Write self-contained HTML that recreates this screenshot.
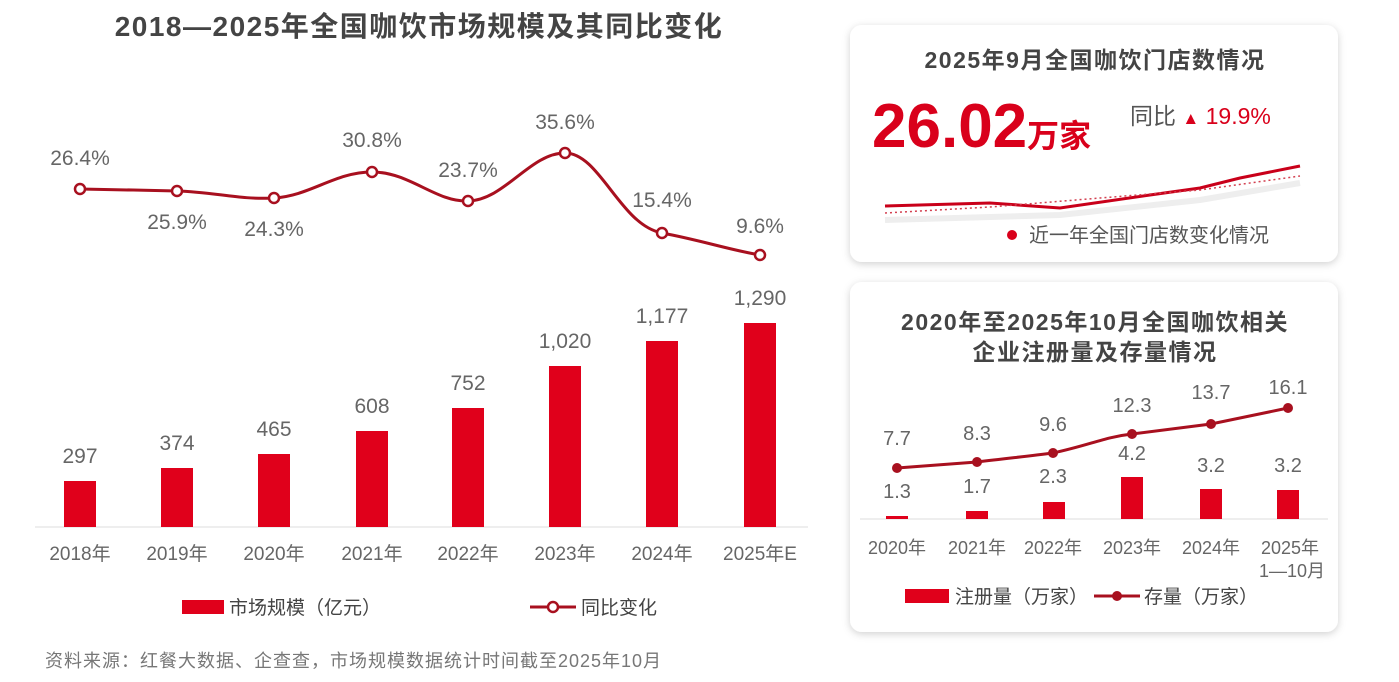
<!DOCTYPE html>
<html><head><meta charset="utf-8"><style>
html,body{margin:0;padding:0;background:#fff;width:1399px;height:682px;overflow:hidden}
svg{display:block;font-family:"Liberation Sans","Noto Sans CJK SC",sans-serif}
</style></head><body>
<svg width="1399" height="682" viewBox="0 0 1399 682">
<defs>
<filter id="sh" x="-5%" y="-5%" width="110%" height="115%"><feDropShadow dx="0" dy="2" stdDeviation="4" flood-color="#000" flood-opacity="0.18"/></filter>
</defs>
<rect width="1399" height="682" fill="#fff"/>
<text x="419" y="36" text-anchor="middle" font-size="28" font-weight="bold" fill="#444" letter-spacing="1.5">2018—2025年全国咖饮市场规模及其同比变化</text>
<line x1="35" y1="527" x2="808" y2="527" stroke="#ddd" stroke-width="1"/>
<g fill="#e0001b">
<rect x="64" y="481" width="32" height="46"/>
<rect x="161" y="468" width="32" height="59"/>
<rect x="258" y="454" width="32" height="73"/>
<rect x="356" y="431" width="32" height="96"/>
<rect x="452" y="408" width="32" height="119"/>
<rect x="549" y="366" width="32" height="161"/>
<rect x="646" y="341" width="32" height="186"/>
<rect x="744" y="323" width="32" height="204"/>
</g>
<g font-size="21" fill="#666" text-anchor="middle">
<text x="80" y="463">297</text><text x="177" y="450">374</text><text x="274" y="436">465</text><text x="372" y="413">608</text>
<text x="468" y="390">752</text><text x="565" y="348">1,020</text><text x="662" y="323">1,177</text><text x="760" y="305">1,290</text>
</g>
<path d="M80,189 C120,190 140,190 177,191 C215,192 240,200 274,198 C310,196 335,172 372,172 C410,172 435,202 468,201 C505,200 530,153 565,153 C600,153 620,225 662,233 C700,240 730,250 760,255" fill="none" stroke="#a8101f" stroke-width="3"/>
<g fill="#fff" stroke="#a8101f" stroke-width="2.5">
<circle cx="80" cy="189" r="5"/><circle cx="177" cy="191" r="5"/><circle cx="274" cy="198" r="5"/><circle cx="372" cy="172" r="5"/>
<circle cx="468" cy="201" r="5"/><circle cx="565" cy="153" r="5"/><circle cx="662" cy="233" r="5"/><circle cx="760" cy="255" r="5"/>
</g>
<g font-size="21" fill="#666" text-anchor="middle">
<text x="80" y="165">26.4%</text><text x="177" y="229">25.9%</text><text x="274" y="236">24.3%</text><text x="372" y="147">30.8%</text>
<text x="468" y="177">23.7%</text><text x="565" y="129">35.6%</text><text x="662" y="207">15.4%</text><text x="760" y="233">9.6%</text>
</g>
<g font-size="19" fill="#666" text-anchor="middle">
<text x="80" y="560">2018年</text><text x="177" y="560">2019年</text><text x="274" y="560">2020年</text><text x="372" y="560">2021年</text>
<text x="468" y="560">2022年</text><text x="565" y="560">2023年</text><text x="662" y="560">2024年</text><text x="760" y="560">2025年E</text>
</g>
<rect x="182" y="600" width="42" height="14" fill="#e0001b"/>
<text x="229" y="614" font-size="19" fill="#444">市场规模（亿元）</text>
<line x1="530" y1="607" x2="576" y2="607" stroke="#a8101f" stroke-width="3"/>
<circle cx="553" cy="607" r="5" fill="#fff" stroke="#a8101f" stroke-width="2.5"/>
<text x="581" y="614" font-size="19" fill="#444">同比变化</text>
<text x="45" y="667" font-size="18" fill="#777" letter-spacing="1">资料来源：红餐大数据、企查查，市场规模数据统计时间截至2025年10月</text>

<rect x="850" y="25" width="488" height="237" rx="12" fill="#fff" filter="url(#sh)"/>
<text x="1095" y="68" text-anchor="middle" font-size="23" font-weight="bold" fill="#444" letter-spacing="1.5">2025年9月全国咖饮门店数情况</text>
<text x="872" y="147" font-size="62" font-weight="bold" fill="#d9001b">26.02<tspan font-size="32">万家</tspan></text>
<text x="1130" y="124" font-size="23" fill="#555">同比 <tspan fill="#d9001b" font-size="17">▲</tspan><tspan fill="#d9001b"> 19.9%</tspan></text>
<path d="M885,206 L990,203 L1060,208 L1150,195 L1200,188 L1240,178 L1300,166" fill="none" stroke="#c9001a" stroke-width="3"/>
<path d="M885,213 L990,207 L1100,198 L1200,190 L1300,176" fill="none" stroke="#d34050" stroke-width="1.5" stroke-dasharray="2,3"/>
<path d="M885,220 L1060,215 L1200,200 L1300,183" fill="none" stroke="#eee" stroke-width="6"/>
<circle cx="1012" cy="235" r="5" fill="#d9001b"/>
<text x="1029" y="242" font-size="20" fill="#555">近一年全国门店数变化情况</text>

<rect x="850" y="282" width="488" height="350" rx="12" fill="#fff" filter="url(#sh)"/>
<text x="1095" y="330" text-anchor="middle" font-size="23" font-weight="bold" fill="#444" letter-spacing="1.5">2020年至2025年10月全国咖饮相关</text>
<text x="1095" y="360" text-anchor="middle" font-size="23" font-weight="bold" fill="#444" letter-spacing="1.5">企业注册量及存量情况</text>
<line x1="860" y1="519" x2="1328" y2="519" stroke="#ddd"/>
<g fill="#e0001b">
<rect x="886" y="516" width="22" height="3"/><rect x="966" y="511" width="22" height="8"/><rect x="1043" y="502" width="22" height="17"/>
<rect x="1121" y="477" width="22" height="42"/><rect x="1200" y="489" width="22" height="30"/><rect x="1277" y="490" width="22" height="29"/>
</g>
<g font-size="20" fill="#666" text-anchor="middle">
<text x="897" y="498">1.3</text><text x="977" y="493">1.7</text><text x="1053" y="483">2.3</text><text x="1132" y="460">4.2</text><text x="1211" y="472">3.2</text><text x="1288" y="472">3.2</text>
<text x="897" y="445">7.7</text><text x="977" y="440">8.3</text><text x="1053" y="431">9.6</text><text x="1132" y="412">12.3</text><text x="1211" y="399">13.7</text><text x="1288" y="394">16.1</text>
</g>
<path d="M897,468 L977,462 C1010,458 1030,456 1053,453 C1090,445 1105,437 1132,434 L1211,424 L1288,408" fill="none" stroke="#a8101f" stroke-width="3"/>
<g fill="#a8101f">
<circle cx="897" cy="468" r="5"/><circle cx="977" cy="462" r="5"/><circle cx="1053" cy="453" r="5"/><circle cx="1132" cy="434" r="5"/><circle cx="1211" cy="424" r="5"/><circle cx="1288" cy="408" r="5"/>
</g>
<g font-size="18" fill="#666" text-anchor="middle">
<text x="897" y="554">2020年</text><text x="977" y="554">2021年</text><text x="1053" y="554">2022年</text><text x="1132" y="554">2023年</text><text x="1211" y="554">2024年</text><text x="1290" y="554">2025年</text>
<text x="1292" y="577">1—10月</text>
</g>
<rect x="905" y="589" width="44" height="14" fill="#e0001b"/>
<text x="955" y="603" font-size="19" fill="#444">注册量（万家）</text>
<line x1="1094" y1="596" x2="1140" y2="596" stroke="#a8101f" stroke-width="3"/>
<circle cx="1117" cy="596" r="5" fill="#a8101f"/>
<text x="1144" y="603" font-size="19" fill="#444">存量（万家）</text>
</svg>
</body></html>
